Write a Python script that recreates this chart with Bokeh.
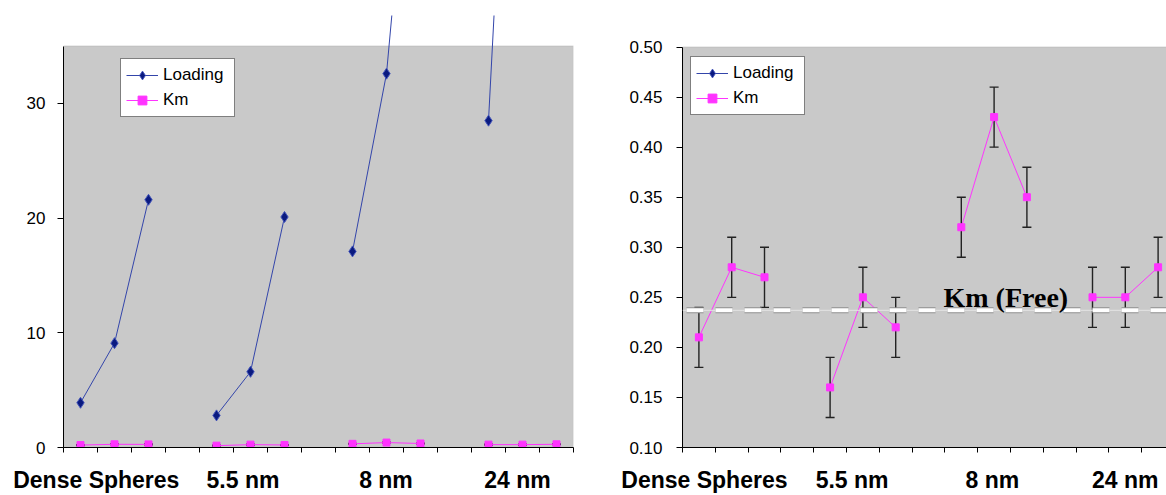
import numpy as np
from bokeh.plotting import figure
from bokeh.layouts import row
from bokeh.models import (BoxAnnotation, Span, Label, Legend, LegendItem, FixedTicker,
                          PrintfTickFormatter, ColumnDataSource, Whisker, TeeHead)
from bokeh.embed import file_html
from bokeh.resources import INLINE

nan = float("nan")

# ---------------- data ----------------
groups = ["Dense Spheres", "5.5 nm", "8 nm", "24 nm"]
# 15 category slots: three samples per group, an empty slot between groups
slot_index = list(range(15))
loading = [3.9, 9.1, 21.6, nan, 2.8, 6.6, 20.1, nan, 17.1, 32.6, 65.0, nan, 28.5, 85.0, 110.0]
km = [0.21, 0.28, 0.27, nan, 0.16, 0.25, 0.22, nan, 0.32, 0.43, 0.35, nan, 0.25, 0.25, 0.28]
km_err = [0.03, 0.03, 0.03, nan, 0.03, 0.03, 0.03, nan, 0.03, 0.03, 0.03, nan, 0.03, 0.03, 0.03]
km_free = 0.237
left_yticks = [0, 10, 20, 30]
right_yticks = [0.10, 0.15, 0.20, 0.25, 0.30, 0.35, 0.40, 0.45, 0.50]

# ---------------- styles / layout ----------------
GRAY = "#C9C9C9"
KM_COLOR = "#FF33FF"
LOAD_LINE = "#3345AA"
LOAD_MARK = "#0A1A80"
FONT = "Liberation Sans"
H = 495

x = [i + 0.5 for i in slot_index]
src = ColumnDataSource(dict(x=x, loading=loading, km=km))
valid = [i for i in slot_index if not np.isnan(km[i])]
err_src = ColumnDataSource(dict(
    x=[x[i] for i in valid],
    up=[km[i] + km_err[i] for i in valid],
    lo=[km[i] - km_err[i] for i in valid],
))


def style_axes(p, boundaries, label_pos):
    xa, ya = p.xaxis[0], p.yaxis[0]
    for ax in (xa, ya):
        ax.axis_line_color = "black"
        ax.axis_line_width = 1
        ax.major_label_text_font = FONT
        ax.major_label_text_color = "black"
    # x axis: minor ticks mark the category slots, labels at group positions
    xa.ticker = FixedTicker(ticks=label_pos, minor_ticks=boundaries)
    xa.major_label_overrides = {t: g for t, g in zip(label_pos, groups)}
    xa.major_tick_line_color = None
    xa.major_tick_out = 0
    xa.major_tick_in = 0
    xa.minor_tick_line_color = "black"
    xa.minor_tick_out = 5
    xa.minor_tick_in = 0
    xa.major_label_text_font_size = "23px"
    xa.major_label_text_font_style = "bold"
    xa.major_label_standoff = 14
    # y axis
    ya.major_tick_line_color = "black"
    ya.major_tick_in = 0
    ya.major_tick_out = 6
    ya.minor_tick_line_color = None
    ya.major_label_text_font_size = "17px"
    p.xgrid.grid_line_color = None
    p.ygrid.grid_line_color = None


def add_series(p):
    whisk = Whisker(source=err_src, base="x", upper="up", lower="lo",
                    line_color="#222222", line_width=1.4, level="underlay",
                    upper_head=TeeHead(size=9, line_color="#222222", line_width=1.4),
                    lower_head=TeeHead(size=9, line_color="#222222", line_width=1.4))
    p.add_layout(whisk)
    l1 = p.line("x", "loading", source=src, line_color=LOAD_LINE, line_width=1)
    m1 = p.scatter("x", "loading", source=src, marker="diamond", size=11,
                   fill_color=LOAD_MARK, line_color="#4455BB", line_width=1)
    l2 = p.line("x", "km", source=src, line_color=KM_COLOR, line_width=1)
    m2 = p.scatter("x", "km", source=src, marker="square", size=7,
                   fill_color=KM_COLOR, line_color=KM_COLOR)
    return [LegendItem(label="Loading", renderers=[l1, m1]),
            LegendItem(label="Km", renderers=[l2, m2])]


def add_legend(p, items, loc):
    leg = Legend(items=items, location=loc, border_line_color="black",
                 border_line_width=1, background_fill_color="white",
                 background_fill_alpha=1.0, label_text_font=FONT,
                 label_text_font_size="17px", label_text_color="black",
                 glyph_width=32, glyph_height=22, label_height=22,
                 label_width=66, label_standoff=5, padding=5, spacing=3, margin=0)
    p.add_layout(leg, "center")


# ---------------- left chart ----------------
left = figure(width=600, height=H, x_range=(0, 15), y_range=(0, 37.67),
              output_backend="svg", toolbar_location=None,
              min_border_left=63, min_border_right=27, min_border_top=15,
              min_border_bottom=46)
left.outline_line_color = None
left.background_fill_color = "white"
left.border_fill_color = "white"
left.add_layout(BoxAnnotation(left=0, right=15, bottom=0, top=35, fill_color=GRAY,
                              fill_alpha=1, line_color="#B0B0B0", line_width=1.5,
                              level="underlay"))
style_axes(left, list(range(16)), [0.965, 5.28, 9.485, 13.35])
left.yaxis[0].ticker = FixedTicker(ticks=left_yticks)
left.yaxis[0].bounds = (0, 35)
left.yaxis[0].major_label_standoff = 12
items_l = add_series(left)
add_legend(left, items_l, (57, 330))

# ---------------- right chart ----------------
right = figure(width=566, height=H, x_range=(0, 14.756), y_range=(0.10, 0.5315),
               output_backend="svg", toolbar_location=None,
               min_border_left=82, min_border_right=0, min_border_top=15,
               min_border_bottom=46)
right.background_fill_color = "white"
right.border_fill_color = "white"
right.outline_line_color = None
right.add_layout(BoxAnnotation(left=0, right=15.5, bottom=0.10, top=0.50, fill_color=GRAY,
                               fill_alpha=1, line_color="#B0B0B0", line_width=1.5,
                               level="underlay"))
style_axes(right, list(range(15)), [0.667, 5.17, 9.445, 13.50])
right.yaxis[0].ticker = FixedTicker(ticks=right_yticks)
right.yaxis[0].bounds = (0.10, 0.50)
right.yaxis[0].formatter = PrintfTickFormatter(format="%.2f")
right.yaxis[0].major_label_standoff = 14
items_r = add_series(right)
right.add_layout(Span(location=km_free, dimension="width", line_color="#E4E4E4",
                      line_width=1))
right.add_layout(Span(location=km_free, dimension="width", line_color="#8E8E8E",
                      line_width=6, line_dash="17 12", line_dash_offset=25))
right.add_layout(Span(location=km_free, dimension="width", line_color="white",
                      line_width=4, line_dash="17 12", line_dash_offset=25))
right.add_layout(Label(x=9.857, y=0.2498, text="Km (Free)", text_font="Liberation Serif",
                       text_font_size="28px", text_font_style="bold", text_color="black",
                       text_align="center", text_baseline="alphabetic"))
add_legend(right, items_r, (8, 332))

layout = row(left, right)
open("out.html", "w").write(file_html(layout, INLINE))
